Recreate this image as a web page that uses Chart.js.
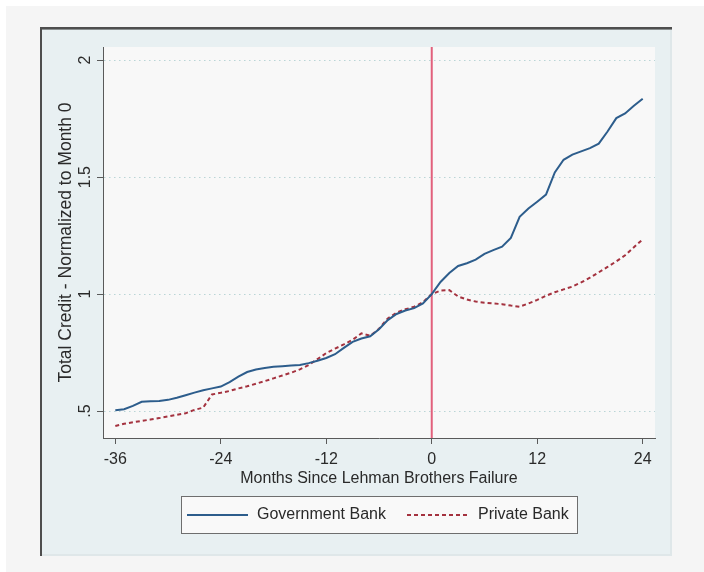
<!DOCTYPE html>
<html>
<head>
<meta charset="utf-8">
<title>Total Credit around the Lehman Brothers Failure</title>
<script src="https://cdn.jsdelivr.net/npm/chart.js@4/dist/chart.umd.min.js"></script>
<style>
  html, body { margin: 0; padding: 0; background: #ffffff; }
  #wrap { width: 704px; height: 572px; }
  canvas { display: block; }
</style>
</head>
<body>
<div id="wrap"><canvas id="chart" width="704" height="572"></canvas></div>
<script>
// Months relative to the Lehman Brothers failure (month 0)
const months = [
  -36, -35, -34, -33, -32, -31, -30, -29, -28, -27, -26, -25,
  -24, -23, -22, -21, -20, -19, -18, -17, -16, -15, -14, -13,
  -12, -11, -10, -9, -8, -7, -6, -5, -4, -3, -2, -1,
  0, 1, 2, 3, 4, 5, 6, 7, 8, 9, 10, 11,
  12, 13, 14, 15, 16, 17, 18, 19, 20, 21, 22, 23, 24
];

// Total credit, normalized to month 0
const governmentBank = [
  0.504, 0.508, 0.522, 0.540, 0.542, 0.543, 0.548, 0.557, 0.568, 0.579, 0.589, 0.597,
  0.605, 0.624, 0.647, 0.667, 0.678, 0.684, 0.689, 0.692, 0.695, 0.697, 0.705, 0.715,
  0.727, 0.743, 0.770, 0.796, 0.810, 0.820, 0.850, 0.889, 0.915, 0.930, 0.940, 0.960,
  1.000, 1.052, 1.090, 1.120, 1.132, 1.147, 1.172, 1.188, 1.203, 1.240, 1.330, 1.366,
  1.395, 1.425, 1.520, 1.574, 1.596, 1.610, 1.624, 1.643, 1.695, 1.752, 1.772, 1.805, 1.835
];

const privateBank = [
  0.436, 0.446, 0.452, 0.458, 0.464, 0.470, 0.477, 0.484, 0.491, 0.505, 0.515, 0.571,
  0.578, 0.586, 0.597, 0.606, 0.617, 0.628, 0.640, 0.652, 0.664, 0.678, 0.697, 0.722,
  0.748, 0.767, 0.785, 0.805, 0.832, 0.822, 0.852, 0.896, 0.921, 0.935, 0.946, 0.965,
  1.000, 1.015, 1.017, 0.990, 0.977, 0.968, 0.963, 0.960, 0.957, 0.951, 0.946, 0.960,
  0.975, 0.993, 1.008, 1.020, 1.032, 1.050, 1.070, 1.093, 1.116, 1.140, 1.166, 1.200, 1.234
];

const xTicks = [-36, -24, -12, 0, 12, 24];
const yTicks = [0.5, 1, 1.5, 2];
const yTickLabels = ['.5', '1', '1.5', '2'];
const seriesNames = ['Government Bank', 'Private Bank'];
const eventMonth = 0;

const FONT = "'Liberation Sans', Arial, Helvetica, sans-serif";
const TEXT = '#2a2a2a';
const AXIS = '#5a5a5a';

Chart.defaults.font.family = FONT;
Chart.defaults.color = TEXT;

// Page, graph region and plot area fills
const backdrop = {
  id: 'backdrop',
  beforeDraw(chart) {
    const ctx = chart.ctx;
    const a = chart.chartArea;
    ctx.save();
    ctx.fillStyle = '#ffffff';
    ctx.fillRect(0, 0, chart.width, chart.height);
    ctx.fillStyle = '#f5f5f5';
    ctx.fillRect(6, 6, chart.width - 6, chart.height - 6);
    // graph region
    ctx.fillStyle = '#e8f0f2';
    ctx.fillRect(40, 27, 632, 529);
    ctx.fillStyle = '#dfe7e9';
    ctx.fillRect(670, 29, 2, 527);
    ctx.fillRect(42, 554, 630, 2);
    ctx.fillStyle = '#4e4e4e';
    ctx.fillRect(40, 27, 632, 2);
    ctx.fillRect(40, 27, 2, 529);
    ctx.fillStyle = '#8a8f90';
    ctx.fillRect(42, 29, 630, 1);
    // plot area
    ctx.fillStyle = '#f8f8f8';
    ctx.fillRect(a.left, a.top, a.right - a.left, a.bottom - a.top);
    ctx.restore();
  }
};

// Vertical marker at the failure month
const eventLine = {
  id: 'eventLine',
  beforeDatasetsDraw(chart) {
    const ctx = chart.ctx;
    const a = chart.chartArea;
    const x = chart.scales.x.getPixelForValue(eventMonth);
    ctx.save();
    ctx.strokeStyle = '#e2607c';
    ctx.lineWidth = 2;
    ctx.beginPath();
    ctx.moveTo(x, a.top);
    ctx.lineTo(x, a.bottom);
    ctx.stroke();
    ctx.restore();
  }
};

// Boxed legend below the axis title
const boxedLegend = {
  id: 'boxedLegend',
  afterDraw(chart) {
    const ctx = chart.ctx;
    const box = { x: 181, y: 496, w: 396, h: 37 };
    ctx.save();
    ctx.fillStyle = '#f9f9f9';
    ctx.fillRect(box.x, box.y, box.w, box.h);
    ctx.strokeStyle = '#6e6e6e';
    ctx.lineWidth = 1;
    ctx.strokeRect(box.x + 0.5, box.y + 0.5, box.w, box.h);
    const cy = box.y + box.h / 2 + 0.5;
    const items = [
      { x0: 187, x1: 248, tx: 257 },
      { x0: 407, x1: 469, tx: 478 }
    ];
    chart.data.datasets.forEach((ds, i) => {
      const it = items[i];
      ctx.strokeStyle = ds.borderColor;
      ctx.lineWidth = ds.borderWidth;
      ctx.setLineDash(ds.borderDash || []);
      ctx.beginPath();
      ctx.moveTo(it.x0, cy);
      ctx.lineTo(it.x1, cy);
      ctx.stroke();
      ctx.setLineDash([]);
      ctx.fillStyle = TEXT;
      ctx.font = '16px ' + FONT;
      ctx.textBaseline = 'middle';
      ctx.textAlign = 'left';
      ctx.fillText(ds.label, it.tx, cy);
    });
    ctx.restore();
  }
};

const toPoints = (vals) => months.map((m, i) => ({ x: m, y: vals[i] }));

new Chart(document.getElementById('chart'), {
  type: 'line',
  data: {
    datasets: [
      {
        label: seriesNames[0],
        data: toPoints(governmentBank),
        borderColor: '#2d5d8c',
        borderWidth: 2,
        pointRadius: 0,
        tension: 0,
        fill: false
      },
      {
        label: seriesNames[1],
        data: toPoints(privateBank),
        borderColor: '#a4323f',
        borderWidth: 2,
        borderDash: [4, 3],
        pointRadius: 0,
        tension: 0,
        fill: false
      }
    ]
  },
  options: {
    responsive: false,
    animation: false,
    devicePixelRatio: 1,
    layout: { padding: { left: 40, top: 47, right: 49, bottom: 84 } },
    plugins: {
      legend: { display: false },
      tooltip: { enabled: false }
    },
    scales: {
      x: {
        type: 'linear',
        min: -37.4,
        max: 25.4,
        afterBuildTicks(scale) { scale.ticks = xTicks.map(v => ({ value: v })); },
        afterFit(scale) { scale.height = 50; },
        ticks: {
          padding: 6,
          maxRotation: 0,
          color: TEXT,
          font: { size: 16 },
          callback: (v) => String(v)
        },
        grid: {
          drawOnChartArea: false,
          drawTicks: true,
          tickLength: 6,
          tickColor: AXIS,
          tickWidth: 1
        },
        border: { display: true, color: AXIS, width: 1 },
        title: {
          display: true,
          text: 'Months Since Lehman Brothers Failure',
          color: TEXT,
          font: { size: 16 },
          padding: { top: 0, bottom: 0 }
        }
      },
      y: {
        type: 'linear',
        min: 0.385,
        max: 2.056,
        afterBuildTicks(scale) { scale.ticks = yTicks.map(v => ({ value: v })); },
        afterFit(scale) { scale.width = 63; },
        ticks: {
          minRotation: 90,
          maxRotation: 90,
          crossAlign: 'center',
          padding: 0,
          color: TEXT,
          font: { size: 16 },
          callback: (v) => yTickLabels[yTicks.indexOf(v)] ?? ''
        },
        grid: {
          drawOnChartArea: true,
          drawTicks: true,
          tickLength: 6,
          color: '#b9d5d6',
          lineWidth: 1,
          tickColor: AXIS,
          tickWidth: 1,
          tickBorderDash: []
        },
        border: { display: true, color: AXIS, width: 1, dash: [1.5, 3.5] },
        title: {
          display: true,
          text: 'Total Credit - Normalized to Month 0',
          color: TEXT,
          font: { size: 17.5 },
          padding: { top: 16, bottom: 0 }
        }
      }
    }
  },
  plugins: [backdrop, eventLine, boxedLegend]
});
</script>
</body>
</html>
